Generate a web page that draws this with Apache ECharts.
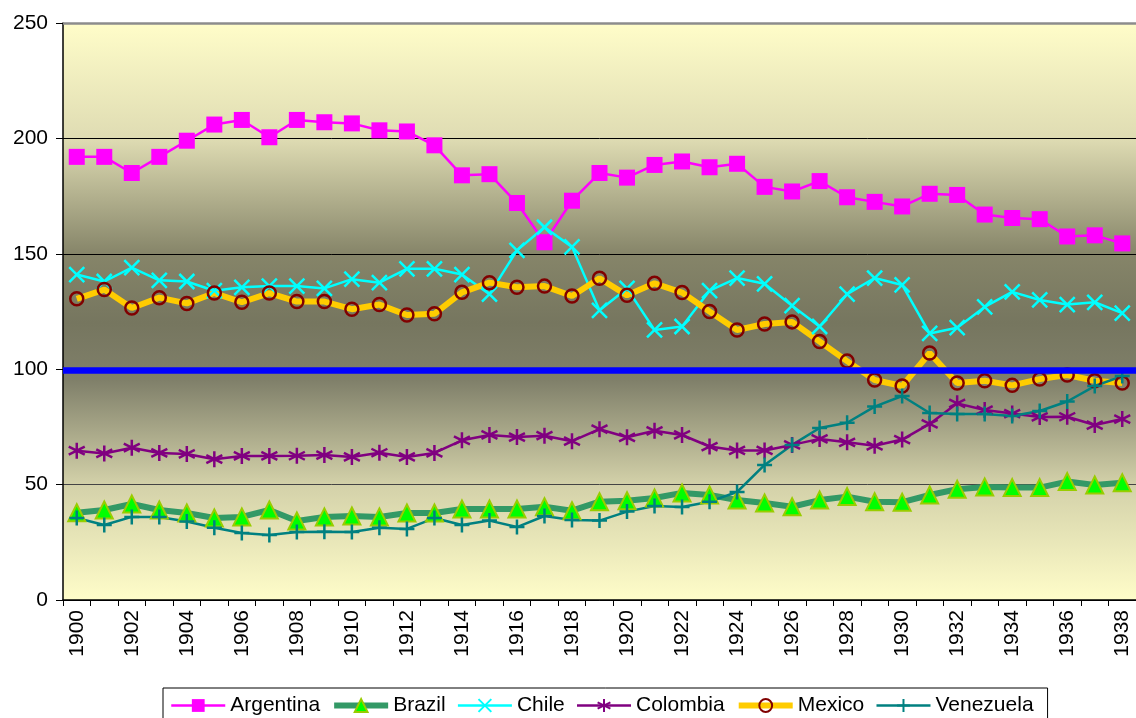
<!DOCTYPE html>
<html><head><meta charset="utf-8">
<script src="https://cdn.jsdelivr.net/npm/echarts@6/dist/echarts.min.js"></script>
<style>html,body{margin:0;padding:0;background:#fff}#c{width:1136px;height:718px}</style>
</head><body><div id="c"></div>
<script>
var years = [];
for (var y = 1900; y <= 1938; y++) years.push(String(y));
var argentina = [192,192,185,192,199,206,208,200.5,208,207,206.5,203.5,203,197,184,184.5,172,155,173,185,183,188.5,190,187.5,189,179,177,181.5,174.5,172.5,170.5,176,175.5,167,165.5,165,157.5,158,154.5];
var brazil = [37.8,39,41.6,39,37.7,35.5,36,39,34.2,36,36.4,36,37.7,37.7,39.4,39.4,39.4,40.4,38.7,42.6,43,44.2,46.4,45.5,43.3,42,40.4,43.3,44.8,42.6,42.4,45.5,48,49,48.7,48.7,51.3,49.8,50.8];
var chile = [141,138,144,138.5,138,134,135.5,136,136,135,139,137.5,143.5,143.5,141,132.5,151.5,161.5,153,125.5,135,117,118.5,134,139.5,137,127.5,118.5,132.5,139.5,136.5,115.5,118,127,133.5,130,128,129,124.3];
var colombia = [64.7,63.5,66,63.7,63.3,61,62.4,62.4,62.5,62.8,62,63.8,62,63.7,69.2,71.5,70.6,71.2,68.8,74,70.5,73.3,71.5,66.5,64.8,64.8,67.2,69.8,68.3,66.8,69.5,76.3,85.2,82.3,80.8,79.3,79.4,75.8,78.4];
var mexico = [130.5,134.5,126.5,131,128.5,133,129,133,129.3,129.3,126,128,123.5,124,133.3,137.5,135.5,136,131.7,139.4,132,137.2,133.2,125,117,119.6,120.5,112,103.5,95.3,92.7,107,94,95,93,95.7,97.5,95,94];
var venezuela = [35.5,32.5,36,36,34,31.3,29,28.2,29.5,29.6,29.5,31.3,30.8,35.5,32.5,34.4,31.6,36.4,34.7,34.4,38.3,40.7,40.3,42.6,46.8,58.5,67.2,74.5,76.8,83.8,88.4,81,80.6,80.6,79.7,81.9,86,92.7,97];
var referenceLevel = 99.7;
var yTicks = {min: 0, max: 250, interval: 50};

var FONT = '"Liberation Sans", Arial, sans-serif';
var crossPath = 'path://M0,0L10,10M10,0L0,10';
var plusPath = 'path://M5,0L5,10M0,5L10,5';
var starPath = 'path://M5,0L5,10M0,2.5L10,7.5M10,2.5L0,7.5';
var CLEAR = 'rgba(0,0,0,0)';

function lineSeries(name, data, color, width, symbol, size, itemStyle) {
  return {
    name: name, type: 'line', data: data,
    symbol: symbol, symbolSize: size, showAllSymbol: true,
    lineStyle: {color: color, width: width},
    itemStyle: itemStyle,
    emphasis: {disabled: true},
    animation: false
  };
}

var chart = echarts.init(document.getElementById('c'), null, {renderer: 'canvas'});
chart.setOption({
  animation: false,
  textStyle: {fontFamily: FONT},
  grid: {
    left: 63, top: 23, width: 1080, bottom: 118,
    show: true, borderWidth: 0,
    backgroundColor: new echarts.graphic.LinearGradient(0, 0, 0, 1, [
      {offset: 0, color: '#FFFDC9'},
      {offset: 0.2, color: '#DFDCB3'},
      {offset: 0.4, color: '#868569'},
      {offset: 0.52, color: '#76765F'},
      {offset: 0.62, color: '#80806A'},
      {offset: 0.8, color: '#D3D1A9'},
      {offset: 1, color: '#FFFDC9'}
    ])
  },
  legend: {
    left: 163, top: 688,
    backgroundColor: '#fff', borderColor: '#000', borderWidth: 1,
    padding: [7, 14, 10, 7],
    itemWidth: 54, itemHeight: 16, itemGap: 11,
    lineStyle: {width: 'inherit'},
    textStyle: {fontSize: 21, color: '#000', fontFamily: FONT},
    data: ['Argentina', 'Brazil', 'Chile', 'Colombia', 'Mexico', 'Venezuela']
  },
  xAxis: {
    type: 'category', data: years, boundaryGap: true,
    axisLine: {lineStyle: {color: '#000', width: 1.5}},
    axisTick: {show: true, interval: 0, length: 6, lineStyle: {color: '#000'}},
    axisLabel: {interval: 1, rotate: 90, fontSize: 21, color: '#000', margin: 10, fontFamily: FONT},
    splitLine: {show: false}
  },
  yAxis: {
    type: 'value', min: yTicks.min, max: yTicks.max, interval: yTicks.interval,
    axisLine: {show: true, lineStyle: {color: '#000', width: 1.5}},
    axisTick: {show: true, length: 7, inside: false, lineStyle: {color: '#000'}},
    axisLabel: {fontSize: 21, color: '#000', margin: 15, fontFamily: FONT},
    splitLine: {show: true, lineStyle: {color: ['#000', '#444', '#000', '#000', '#000', '#888'], width: 1}}
  },
  series: [
    {
      name: 'ref', type: 'line', data: [], silent: true,
      markLine: {
        silent: true, symbol: 'none', animation: false,
        label: {show: false},
        data: [
          {yAxis: referenceLevel, lineStyle: {color: '#0000FF', width: 6.5, type: 'solid'}},
          {yAxis: yTicks.max, lineStyle: {color: '#8C8C8C', width: 2.5, type: 'solid'}}
        ]
      }
    },
    lineSeries('Argentina', argentina, '#FF00FF', 2.5, 'rect', 16, {color: '#FF00FF'}),
    lineSeries('Brazil', brazil, '#339966', 6, 'triangle', 17, {color: '#00FF00', borderColor: '#99CC00', borderWidth: 2}),
    lineSeries('Chile', chile, '#00FFFF', 2.5, crossPath, 15, {color: CLEAR, borderColor: '#00FFFF', borderWidth: 2.5}),
    lineSeries('Colombia', colombia, '#800080', 2.5, starPath, 16, {color: CLEAR, borderColor: '#800080', borderWidth: 2.5}),
    lineSeries('Mexico', mexico, '#FFCC00', 6, 'circle', 13, {color: CLEAR, borderColor: '#800000', borderWidth: 2.5}),
    lineSeries('Venezuela', venezuela, '#008080', 2.5, plusPath, 15, {color: CLEAR, borderColor: '#008080', borderWidth: 2.5})
  ]
});
</script></body></html>
